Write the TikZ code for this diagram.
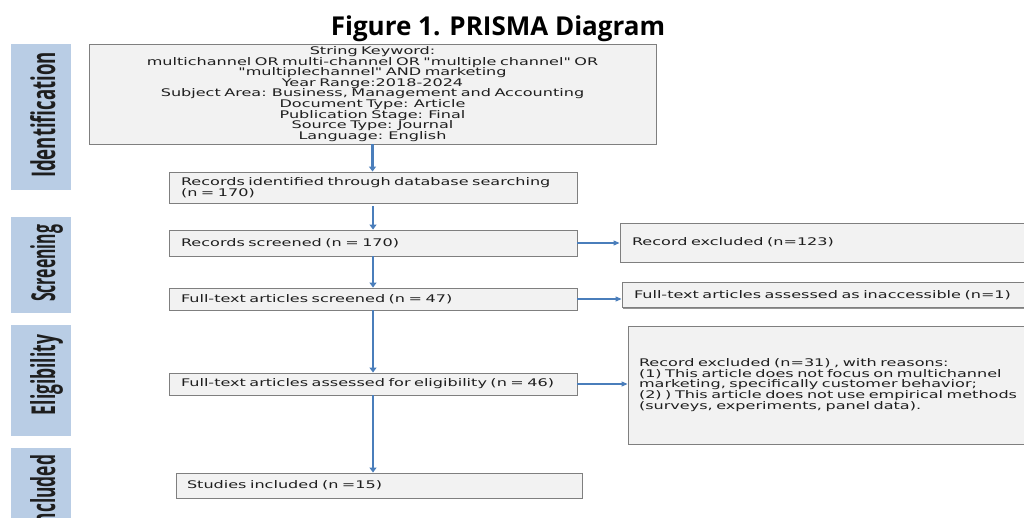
\documentclass[tikz,border=0pt]{standalone}
\usepackage{fontspec}
\setmainfont{DejaVu Sans}
\newfontfamily\boxfont[FakeStretch=1.53]{DejaVu Sans}
\newfontfamily\titlefont{Open Sans}
\usetikzlibrary{arrows.meta,shadows}
\definecolor{sidebg}{HTML}{B9CDE5}
\definecolor{boxfill}{HTML}{F2F2F2}
\definecolor{boxline}{HTML}{7F7F7F}
\definecolor{arrowblue}{HTML}{4A7EBB}
\definecolor{txt}{HTML}{1E1E1E}
\tikzset{
  pbox/.style={draw=boxline, line width=0.9pt, fill=boxfill,
    drop shadow={shadow xshift=1.2pt, shadow yshift=-1.2pt, fill=black!70, opacity=0.6},
    inner xsep=12pt, inner ysep=0pt, align=left, text=txt,
    font=\boxfont\fontsize{10.5}{10.6}\selectfont},
  sidebox/.style={fill=sidebg, draw=none, inner sep=0pt, minimum width=60pt},
  sidelab/.style={rotate=90, anchor=base, inner sep=0pt, text=txt,
    font=\titlefont\bfseries\fontsize{34}{34}\selectfont},
  varrow/.style={draw=arrowblue, line width=2.4pt, -{Triangle[length=5pt,width=7pt]}},
  harrow/.style={draw=arrowblue, line width=1.1pt, -{Triangle[length=6pt,width=5pt]}}
}
\begin{document}
\begin{tikzpicture}[x=1pt,y=-1pt]
\useasboundingbox (0,0) rectangle (1024,518);

\node[anchor=base, inner sep=0pt, font=\titlefont\bfseries\fontsize{26}{26}\selectfont] (title) at (498,36) {Figure 1. PRISMA Diagram};

% side bars
\node[sidebox, minimum height=146pt] (sid) at (41,117) {};
\node[sidebox, minimum height=96pt] (sscr) at (41,265) {};
\node[sidebox, minimum height=111pt] (selig) at (41,380.5) {};
\node[sidebox, minimum height=82pt] (sinc) at (41,489) {};
\node[sidelab] (lid) at (55,115) {\resizebox{126pt}{25pt}{Identification}};
\node[sidelab] (lscr) at (55,263.5) {\resizebox{77pt}{25pt}{Screening}};
\node[sidelab] (lelig) at (55,375) {\resizebox{80pt}{25pt}{Eligibility}};
\node[sidelab] (linc) at (55,492.5) {\resizebox{75pt}{25pt}{Included}};

% main column
\node[pbox, align=center, inner xsep=4pt, text width=559pt, minimum height=100pt] (top) at (372.5,94) {String Keyword:\\
multichannel OR multi-channel OR "multiple channel" OR\\
"multiplechannel" AND marketing\\
Year Range:2018-2024\\
Subject Area: Business, Management and Accounting\\
Document Type: Article\\
Publication Stage: Final\\
Source Type: Journal\\
Language: English};

\node[pbox, text width=384pt, minimum height=31pt, font=\boxfont\fontsize{10.5}{11}\selectfont] (ident) at (373,187.5) {Records identified through database searching\\(n = 170)};
\node[pbox, text width=384pt, minimum height=26pt] (scr) at (373,243) {Records screened (n = 170)};
\node[pbox, text width=384pt, minimum height=22pt] (full) at (373,299) {Full-text articles screened (n = 47)};
\node[pbox, text width=384pt, minimum height=22pt] (elig) at (373,384) {Full-text articles assessed for eligibility (n = 46)};
\node[pbox, inner xsep=11pt, text width=384pt, minimum height=25pt] (inc) at (379,485.5) {Studies included (n =15)};

% right column
\node[pbox, text width=384pt, minimum height=39pt] (ex1) at (824,242.5) {Record excluded (n=123)};
\node[pbox, text width=382pt, minimum height=25pt] (ex2) at (825,295) {Full-text articles assessed as inaccessible (n=1)};
\node[pbox, inner xsep=11pt, text width=410pt, minimum height=118pt] (ex3) at (844,385) {Record excluded (n=31) , with reasons:\\
(1) This article does not focus on multichannel\\
marketing, specifically customer behavior;\\
(2) ) This article does not use empirical methods\\
(surveys, experiments, panel data).};

% connectors
\draw[varrow] (top.south) -- (top.south |- ident.north);
\draw[varrow] ([yshift=-3pt]ident.south) -- (scr.north);
\draw[varrow] (scr.south) -- (full.north);
\draw[varrow] (full.south) -- (elig.north);
\draw[varrow] (elig.south) -- (elig.south |- inc.north);
\draw[harrow] (scr.east) -- (scr.east -| ex1.west);
\draw[harrow] (full.east) -- (full.east -| ex2.west);
\draw[harrow] (elig.east) -- (elig.east -| ex3.west);
\end{tikzpicture}
\end{document}
